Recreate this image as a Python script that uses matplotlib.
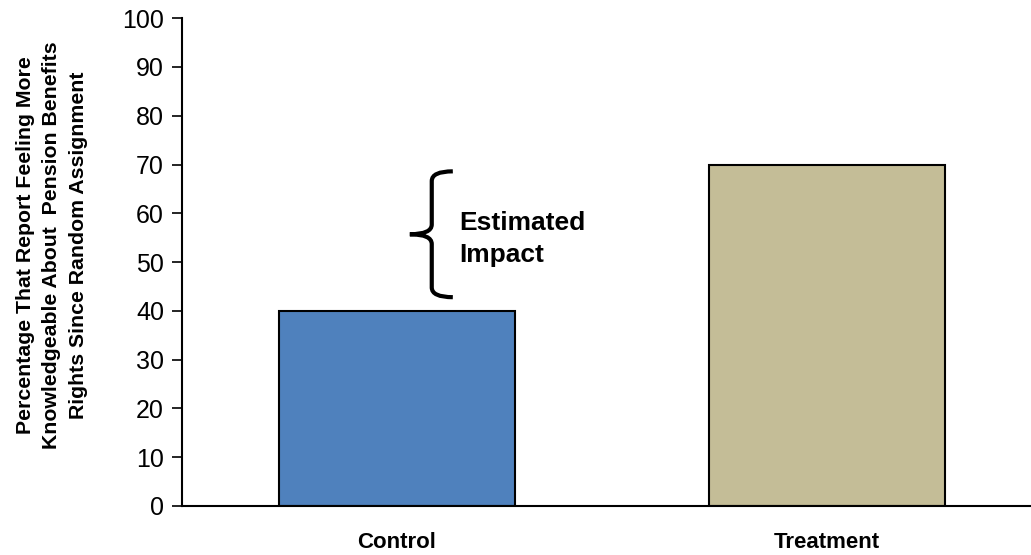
import matplotlib.pyplot as plt
from matplotlib.path import Path
from matplotlib.patches import PathPatch

categories = ["Control", "Treatment"]
values = [40, 70]
bar_colors = ["#4F81BD", "#C4BD97"]
yticks = list(range(0, 101, 10))
ylabel = ("Percentage That Report Feeling More\n"
          "Knowledgeable About  Pension Benefits\n"
          "Rights Since Random Assignment")
brace_low, brace_high = 42.8, 68.6

plt.rcParams['font.family'] = ['Liberation Sans', 'DejaVu Sans']

fig = plt.figure(figsize=(10.31, 5.55), dpi=100)
ax = fig.add_axes([0.1765, 0.0883, 0.834, 0.879])

x = range(len(categories))
ax.bar(x, values, width=0.55, color=bar_colors, edgecolor="black", linewidth=1.5, zorder=2)

ax.set_xlim(-0.5, 1.5)
ax.set_ylim(0, 100)
ax.set_yticks(yticks)
ax.set_xticks(list(x))
ax.set_xticklabels(categories, fontsize=16, fontweight="bold")
ax.tick_params(axis="x", length=0, pad=19)
ax.tick_params(axis="y", length=7, width=1.2, labelsize=18, pad=6, direction="out")

ax.spines["top"].set_visible(False)
ax.spines["right"].set_visible(False)
ax.spines["left"].set_linewidth(1.5)
ax.spines["bottom"].set_linewidth(1.5)

ax.set_ylabel(ylabel, fontsize=15.3, fontweight="bold", linespacing=1.52)
ax.yaxis.set_label_coords(-0.109, 0.535)

# curly brace for the estimated impact
xm, xt, xe = 0.081, 0.030, 0.13
ymid = (brace_low + brace_high) / 2
r = 2.0
verts = [
    (xe, brace_high),
    (xm, brace_high), (xm, brace_high - r),
    (xm, ymid + r),
    (xm, ymid), (xt, ymid),
    (xm, ymid), (xm, ymid - r),
    (xm, brace_low + r),
    (xm, brace_low), (xe, brace_low),
]
codes = [Path.MOVETO, Path.CURVE3, Path.CURVE3, Path.LINETO,
         Path.CURVE3, Path.CURVE3, Path.CURVE3, Path.CURVE3,
         Path.LINETO, Path.CURVE3, Path.CURVE3]
ax.add_patch(PathPatch(Path(verts, codes), fill=False, lw=3, edgecolor="black",
                       capstyle="butt", zorder=3))
ax.text(0.144, 54.8, "Estimated\nImpact", fontsize=19, fontweight="bold",
        va="center", ha="left", linespacing=1.41)

fig.savefig("out.png", dpi=100)
